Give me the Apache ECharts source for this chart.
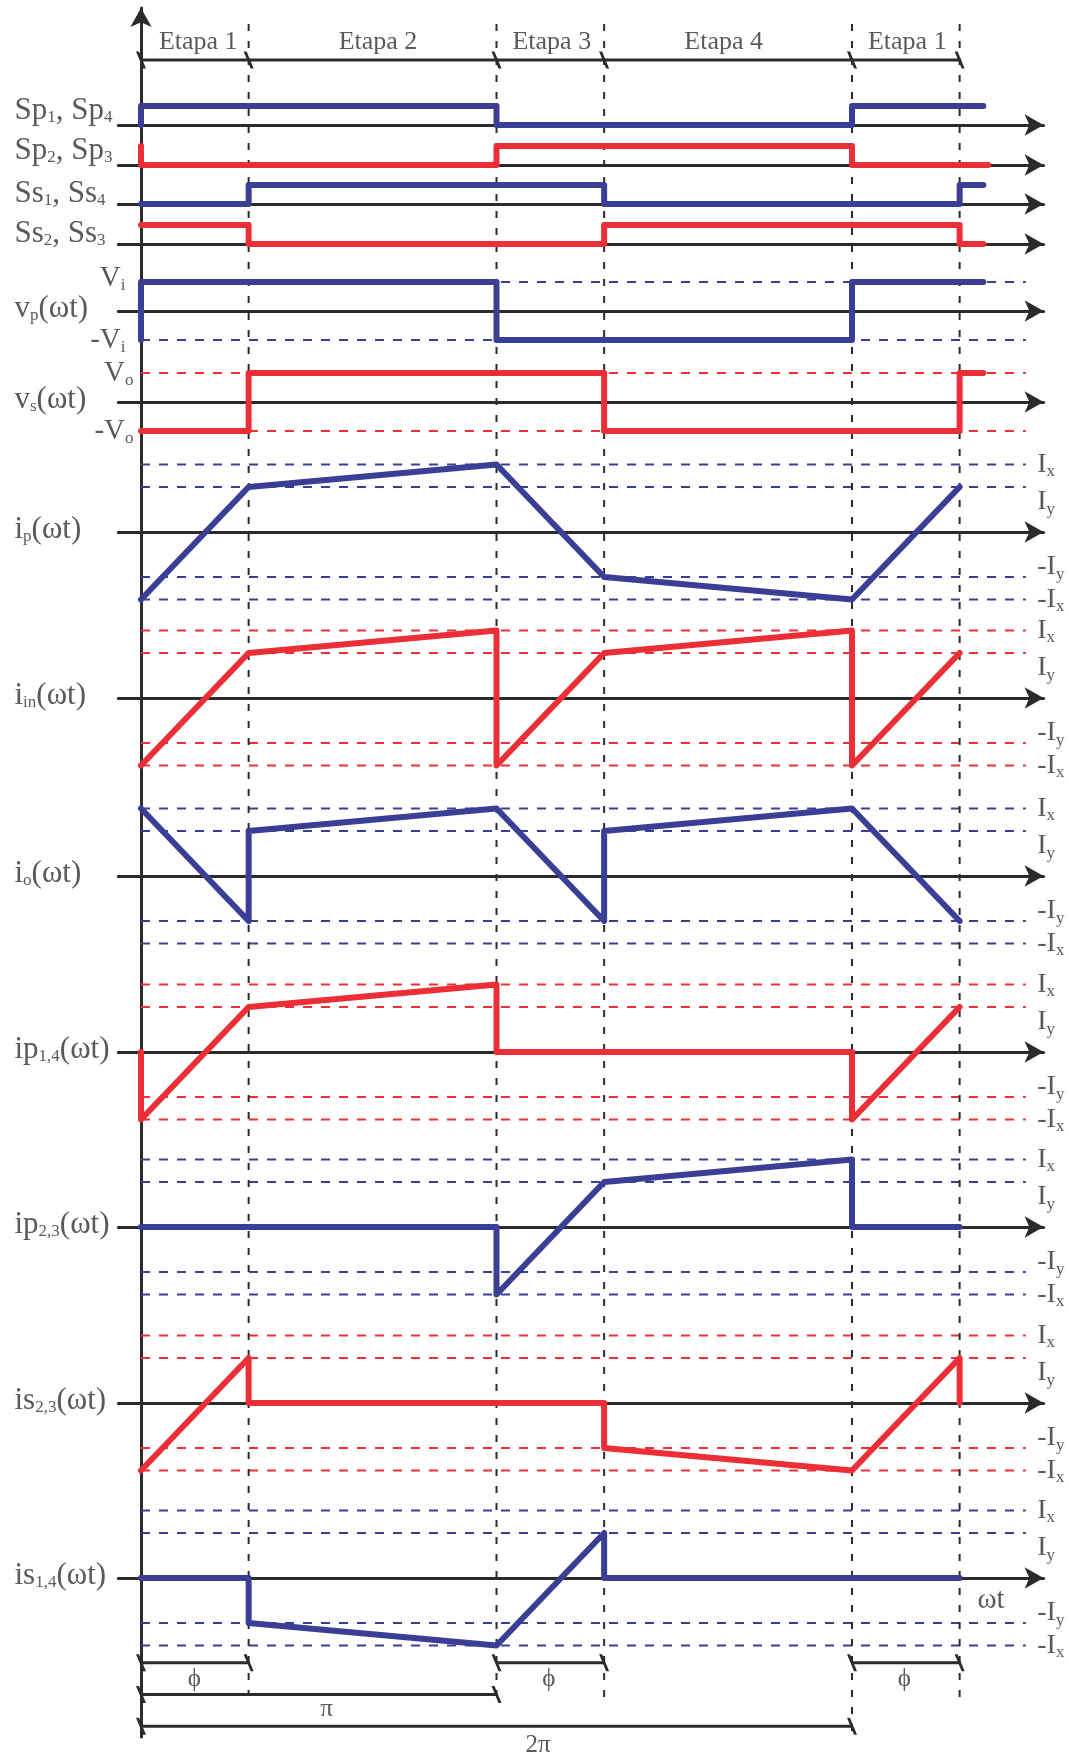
<!DOCTYPE html>
<html>
<head>
<meta charset="utf-8">
<script src="https://cdn.jsdelivr.net/npm/echarts@6/dist/echarts.min.js"></script>
<style>
    html, body {margin: 0; padding: 0; background: #fff;}
    #chart {width: 1069px; height: 1758px;}
</style>
</head>
<body>
<div id="chart"></div>
<script>
// ωt in degrees: 0, φ, π, π+φ, 2π, 2π+φ
const stage = [0, 54.5, 180, 234.5, 360, 414.5];

// gate signals (1 = on) and voltages (±Vi, ±Vo)
const sp14 = [[0, 0], [0, 1], [180, 1], [180, 0], [360, 0], [360, 1], [426.5, 1]];
const sp23 = [[0, 1], [0, 0], [180, 0], [180, 1], [360, 1], [360, 0], [429, 0]];
const ss14 = [[0, 0], [54.5, 0], [54.5, 1], [234.5, 1], [234.5, 0], [414.5, 0], [414.5, 1], [426.5, 1]];
const ss23 = [[0, 1], [54.5, 1], [54.5, 0], [234.5, 0], [234.5, 1], [414.5, 1], [414.5, 0], [426.5, 0]];
const vp = [[0, -1], [0, 1], [180, 1], [180, -1], [360, -1], [360, 1], [426.5, 1]];
const vs = [[0, -1], [54.5, -1], [54.5, 1], [234.5, 1], [234.5, -1], [414.5, -1], [414.5, 1], [426.5, 1]];

// currents, in units of Iy (Ix is about 1.5 Iy)
const ip = [[0, -1.5], [54.5, 1], [180, 1.5], [234.5, -1], [360, -1.5], [414.5, 1]];
const iin = [[0, -1.5], [54.5, 1], [180, 1.5], [180, -1.5], [234.5, 1], [360, 1.5], [360, -1.5], [414.5, 1]];
const io = [[0, 1.5], [54.5, -1], [54.5, 1], [180, 1.5], [234.5, -1], [234.5, 1], [360, 1.5], [414.5, -1]];
const ip14 = [[0, 0], [0, -1.5], [54.5, 1], [180, 1.5], [180, 0], [360, 0], [360, -1.5], [414.5, 1]];
const ip23 = [[0, 0], [180, 0], [180, -1.5], [234.5, 1], [360, 1.5], [360, 0], [414.5, 0]];
const is23 = [[0, -1.5], [54.5, 1], [54.5, 0], [234.5, 0], [234.5, -1], [360, -1.5], [414.5, 1], [414.5, 0]];
const is14 = [[0, 0], [54.5, 0], [54.5, -1], [180, -1.5], [234.5, 1], [234.5, 0], [414.5, 0]];

const currentLevels = [1.5, 1, -1, -1.5];
const currentNames = ['I{s|x}', 'I{s|y}', '-I{s|y}', '-I{s|x}'];
const voltLevels = [1, -1];

const stageNames = ['Etapa 1', 'Etapa 2', 'Etapa 3', 'Etapa 4', 'Etapa 1'];
const stageLabelAt = [29, 120, 208, 295, 388];

const phiSpans = [[0, 54.5], [180, 234.5], [360, 414.5]];
const piSpan = [0, 180];
const twoPiSpan = [0, 360];
const phiLabelAt = [27, 206.5, 386.5];
const piLabelAt = 94;
const twoPiLabelAt = 201;

// ---- layout / style ----
const BLUE = '#3b3e95', RED = '#ec2e37', INK = '#2b2b2b', TXT = '#303030';
const SERIF = '"Liberation Serif", "DejaVu Serif", serif';
const PPD = 711 / 360;      // px per degree
const T0_PX = 141;          // the vertical axis
const XMIN = -11.5, XMAX = 457, REF_END = 448;
const GRID_LEFT = T0_PX + XMIN * PPD;
const GRID_W = (XMAX - XMIN) * PPD;
const FRAME_TOP = 8, FRAME_BOTTOM = 1737;
const SLASH = 'path://M0,0 L3,0 L10,17 L7,17 Z';
const SUB = {fontSize: 17, fontFamily: SERIF, color: TXT, verticalAlign: 'bottom', lineHeight: 12};

const rows = [
    {name: 'Sp{s|1}, Sp{s|4}', axisY: 125, ppu: 19, span: 1.5, color: BLUE, data: sp14, nameDy: -14},
    {name: 'Sp{s|2}, Sp{s|3}', axisY: 165, ppu: 19, span: 1.5, color: RED, data: sp23, nameDy: -14},
    {name: 'Ss{s|1}, Ss{s|4}', axisY: 204, ppu: 19, span: 1.5, color: BLUE, data: ss14, nameDy: -10},
    {name: 'Ss{s|2}, Ss{s|3}', axisY: 244, ppu: 19, span: 1.5, color: RED, data: ss23, nameDy: -10},
    {name: 'v{s|p}(ωt)', axisY: 311, ppu: 29, span: 1.5, color: BLUE, data: vp, nameDy: -2,
        levels: voltLevels, leftNames: ['V{s|i}', '-V{s|i}'], leftDist: 15, leftDy: [-4, 0]},
    {name: 'v{s|s}(ωt)', axisY: 402, ppu: 29, span: 1.5, color: RED, data: vs, nameDy: -2,
        levels: voltLevels, leftNames: ['V{s|o}', '-V{s|o}'], leftDist: 7, leftDy: [0, 0]},
    {name: 'i{s|p}(ωt)', axisY: 532, ppu: 45, span: 2, color: BLUE, data: ip, nameDy: -2, current: true},
    {name: 'i{s|in}(ωt)', axisY: 698, ppu: 45, span: 2, color: RED, data: iin, nameDy: -2, current: true},
    {name: 'i{s|o}(ωt)', axisY: 876, ppu: 45, span: 2, color: BLUE, data: io, nameDy: -2, current: true},
    {name: 'ip{s|1,4}(ωt)', axisY: 1052, ppu: 45, span: 2, color: RED, data: ip14, nameDy: -2, current: true},
    {name: 'ip{s|2,3}(ωt)', axisY: 1227, ppu: 45, span: 2, color: BLUE, data: ip23, nameDy: -2, current: true},
    {name: 'is{s|2,3}(ωt)', axisY: 1403, ppu: 45, span: 2, color: RED, data: is23, nameDy: -2, current: true},
    {name: 'is{s|1,4}(ωt)', axisY: 1578, ppu: 45, span: 2, color: BLUE, data: is14, nameDy: -2, current: true}
];
const currentDy = [0, 15, -10, 0];

function txt(value, text, size, label) {
    return {
        value: value,
        label: Object.assign({
            show: true, formatter: text, fontSize: size, fontFamily: SERIF,
            color: TXT, lineHeight: 32, rich: {s: Object.assign({}, SUB)}
        }, label)
    };
}

function textSeries(idx, items) {
    return {
        type: 'scatter', xAxisIndex: idx, yAxisIndex: idx, symbolSize: 1, clip: false,
        silent: true, z: 6, itemStyle: {color: 'transparent'}, data: items
    };
}

function plainLine(idx, data, style, z, extra) {
    return Object.assign({
        type: 'line', xAxisIndex: idx, yAxisIndex: idx, data: data, symbol: 'none',
        silent: true, z: z, lineStyle: style
    }, extra || {});
}

const grids = [], xAxes = [], yAxes = [], series = [];

function hiddenX(idx) {
    return {gridIndex: idx, type: 'value', min: XMIN, max: XMAX, show: false};
}

rows.forEach((r, i) => {
    grids.push({left: GRID_LEFT, width: GRID_W, top: r.axisY - r.span * r.ppu, height: 2 * r.span * r.ppu});
    xAxes.push({
        gridIndex: i, type: 'value', min: XMIN, max: XMAX,
        axisLine: {show: true, onZero: true, symbol: ['none', 'arrow'], symbolSize: [16, 19],
            lineStyle: {color: INK, width: 3}},
        axisTick: {show: false}, axisLabel: {show: false}, splitLine: {show: false}
    });
    yAxes.push({gridIndex: i, type: 'value', min: -r.span, max: r.span, show: false});

    const levels = r.current ? currentLevels : (r.levels || []);
    levels.forEach(lv => {
        series.push(plainLine(i, [[0, lv], [REF_END, lv]], {color: r.color, width: 2, type: [9, 9]}, 1));
    });

    series.push(plainLine(i, r.data, {color: r.color, width: 6, cap: 'round', join: 'round'}, 5));

    const labels = [txt([XMIN, 0], r.name, 31, {
        position: [15 - GRID_LEFT, r.nameDy], align: 'left', verticalAlign: 'middle'
    })];
    if (r.current) {
        currentLevels.forEach((lv, j) => {
            labels.push(txt([REF_END, lv], currentNames[j], 28,
                {position: 'right', distance: 11, offset: [0, currentDy[j]]}));
        });
    }
    if (r.leftNames) {
        r.levels.forEach((lv, j) => {
            labels.push(txt([0, lv], r.leftNames[j], 29,
                {position: 'left', distance: r.leftDist, offset: [0, r.leftDy[j]]}));
        });
    }
    if (i === rows.length - 1) {
        labels.push(txt([423.3, -0.5], 'ωt', 29, {position: 'right', distance: 0}));
    }
    series.push(textSeries(i, labels));
});

// frame: main vertical axis and the dashed stage guides
const F = rows.length;
grids.push({left: GRID_LEFT, width: GRID_W, top: FRAME_TOP, height: FRAME_BOTTOM - FRAME_TOP});
xAxes.push(hiddenX(F));
yAxes.push({
    gridIndex: F, type: 'value', min: 0, max: FRAME_BOTTOM - FRAME_TOP,
    axisLine: {show: true, onZero: true, symbol: ['none', 'arrow'], symbolSize: [16, 19],
        lineStyle: {color: INK, width: 3}},
    axisTick: {show: false}, axisLabel: {show: false}, splitLine: {show: false}
});
const fy = px => FRAME_BOTTOM - px;
const guideBottom = [1693, 1695, 1697, 1735, 1697];
stage.slice(1).forEach((t, k) => {
    series.push(plainLine(F, [[t, fy(24)], [t, fy(guideBottom[k])]], {color: INK, width: 2, type: [7, 10]}, 2));
});

// stage bar on top
const E = F + 1;
grids.push({left: GRID_LEFT, width: GRID_W, top: 30, height: 60});
xAxes.push(hiddenX(E));
yAxes.push({gridIndex: E, type: 'value', min: -1, max: 1, show: false});
const slashLine = (idx, pts) => plainLine(idx, pts, {color: INK, width: 3}, 4, {
    symbol: SLASH, symbolSize: [10, 17], showSymbol: true, itemStyle: {color: INK}
});
series.push(slashLine(E, stage.map(t => [t, 0])));
series.push(textSeries(E, stageNames.map((n, k) => txt([stageLabelAt[k], 0.6], n, 26, {position: 'inside'}))));

// dimension lines at the bottom
const D = E + 1;
grids.push({left: GRID_LEFT, width: GRID_W, top: 1631, height: 128});
xAxes.push(hiddenX(D));
yAxes.push({gridIndex: D, type: 'value', min: -3, max: 1, show: false});
phiSpans.forEach(s => series.push(slashLine(D, [[s[0], 0], [s[1], 0]])));
series.push(slashLine(D, [[piSpan[0], -1], [piSpan[1], -1]]));
series.push(slashLine(D, [[twoPiSpan[0], -2], [twoPiSpan[1], -2]]));
const dimLabels = phiLabelAt.map(t => txt([t, -0.53], 'ϕ', 25, {position: 'inside'}));
dimLabels.push(txt([piLabelAt, -1.47], 'π', 25, {position: 'inside'}));
dimLabels.push(txt([twoPiLabelAt, -2.6], '2π', 25, {position: 'inside'}));
series.push(textSeries(D, dimLabels));

const chart = echarts.init(document.getElementById('chart'), null, {renderer: 'canvas'});
chart.setOption({
    backgroundColor: '#fff',
    animation: false,
    grid: grids,
    xAxis: xAxes,
    yAxis: yAxes,
    series: series
});
</script>
</body>
</html>
